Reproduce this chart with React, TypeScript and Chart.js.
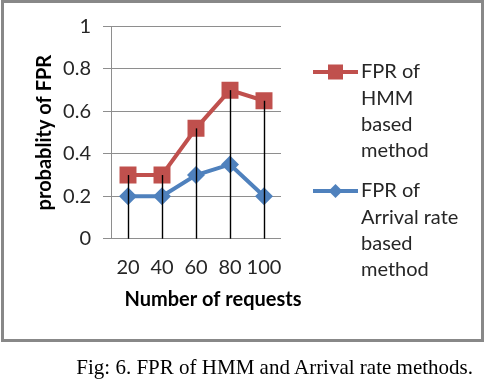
import React, { useEffect, useRef } from "react";
import { Chart, registerables } from "chart.js";

Chart.register(...registerables);

const CATEGORIES = ["20", "40", "60", "80", "100"];
const HMM_FPR = [0.3, 0.3, 0.52, 0.7, 0.65];
const ARRIVAL_FPR = [0.2, 0.2, 0.3, 0.35, 0.2];
const Y_TICKS = [0, 0.2, 0.4, 0.6, 0.8, 1];
const HMM_LABEL = ["FPR of", "HMM", "based", "method"];
const ARRIVAL_LABEL = ["FPR of", "Arrival rate", "based", "method"];
const Y_TITLE = "probablity of FPR";
const X_TITLE = "Number of requests";
const CAPTION = "Fig: 6. FPR of HMM and Arrival rate methods.";

const RED = "#C0504D";
const BLUE = "#4F81BD";
const FONT = "Lato";
const TEXT = "#262626";
const GRID = "#8e8e8e";
const FS = 20;

const dropLines = {
  id: "dropLines",
  afterDatasetsDraw(chart: any) {
    const ctx = chart.ctx;
    const area = chart.chartArea;
    const metas = chart.data.datasets.map((_: any, i: number) => chart.getDatasetMeta(i));
    const n = chart.data.labels.length;
    ctx.save();
    ctx.strokeStyle = "#000";
    ctx.lineWidth = 1.4;
    for (let i = 0; i < n; i++) {
      let minY = Infinity;
      let x = 0;
      metas.forEach((m: any) => {
        const p = m.data[i];
        if (p && p.y < minY) {
          minY = p.y;
          x = p.x;
        }
      });
      ctx.beginPath();
      ctx.moveTo(Math.round(x) + 0.5, minY);
      ctx.lineTo(Math.round(x) + 0.5, area.bottom);
      ctx.stroke();
    }
    ctx.restore();
  },
};

const customText = {
  id: "customText",
  afterDraw(chart: any) {
    const ctx = chart.ctx;
    ctx.save();
    ctx.font = `bold ${FS}px ${FONT}`;
    ctx.fillStyle = "#000";
    ctx.textAlign = "center";
    ctx.textBaseline = "alphabetic";
    ctx.fillText(X_TITLE, 213, 306);

    chart.data.datasets.forEach((ds: any, k: number) => {
      const y0 = 72 + k * 119;
      ctx.strokeStyle = ds.borderColor;
      ctx.lineWidth = 4;
      ctx.beginPath();
      ctx.moveTo(313, y0);
      ctx.lineTo(358, y0);
      ctx.stroke();
      ctx.fillStyle = ds.backgroundColor;
      const cx = 335.5;
      if (ds.pointStyle === "rect") {
        ctx.fillRect(cx - 7.5, y0 - 7.5, 15, 15);
      } else {
        ctx.beginPath();
        ctx.moveTo(cx - 7, y0);
        ctx.lineTo(cx, y0 - 7);
        ctx.lineTo(cx + 7, y0);
        ctx.lineTo(cx, y0 + 7);
        ctx.closePath();
        ctx.fill();
      }
      ctx.font = `${FS}px ${FONT}`;
      ctx.fillStyle = TEXT;
      ctx.textAlign = "left";
      ctx.textBaseline = "middle";
      (ds.legendLines as string[]).forEach((line, j) => {
        ctx.fillText(line, 361, y0 + j * 26.3);
      });
    });
    ctx.restore();
  },
};

export default function App() {
  const ref = useRef<HTMLCanvasElement>(null);

  useEffect(() => {
    document.body.style.margin = "0";
    if (!ref.current) return;
    const chart = new Chart(ref.current, {
      type: "line",
      data: {
        labels: CATEGORIES,
        datasets: [
          {
            label: HMM_LABEL.join(" "),
            data: HMM_FPR,
            borderColor: RED,
            backgroundColor: RED,
            borderWidth: 4,
            pointStyle: "rect",
            pointRadius: 12,
            pointHoverRadius: 12,
            pointBorderWidth: 0,
            tension: 0,
            legendLines: HMM_LABEL,
          } as any,
          {
            label: ARRIVAL_LABEL.join(" "),
            data: ARRIVAL_FPR,
            borderColor: BLUE,
            backgroundColor: BLUE,
            borderWidth: 4,
            pointStyle: "rectRot",
            pointRadius: 9,
            pointHoverRadius: 9,
            pointBorderWidth: 0,
            tension: 0,
            legendLines: ARRIVAL_LABEL,
          } as any,
        ],
      },
      options: {
        responsive: false,
        animation: false,
        devicePixelRatio: 1,
        layout: { padding: { left: 0, top: 26.5, right: 219, bottom: 99.3 } },
        plugins: { legend: { display: false }, tooltip: { enabled: false } },
        scales: {
          x: {
            type: "category",
            offset: true,
            grid: { display: false, drawTicks: false },
            border: { display: false },
            ticks: {
              font: { family: FONT, size: FS },
              color: TEXT,
              padding: 17,
              maxRotation: 0,
              autoSkip: false,
            },
            afterFit: (s: any) => {
              s.height = 50;
            },
          },
          y: {
            min: 0,
            max: 1,
            afterBuildTicks: (s: any) => {
              s.ticks = Y_TICKS.map((v) => ({ value: v }));
            },
            grid: { color: GRID, lineWidth: 1, tickLength: 8, drawTicks: true },
            border: { display: true, color: GRID, width: 1 },
            ticks: {
              font: { family: FONT, size: FS },
              color: TEXT,
              padding: 12,
              callback: (v: any) => String(v),
            },
            title: {
              display: true,
              text: Y_TITLE,
              color: "#000",
              font: { family: FONT, size: FS, weight: "bold" },
              padding: { top: 33, bottom: 0 },
            },
            afterFit: (s: any) => {
              s.width = 111;
            },
          },
        },
      },
      plugins: [dropLines, customText],
    });
    return () => chart.destroy();
  }, []);

  return (
    <div style={{ position: "relative", width: 500, height: 388, background: "#fff" }}>
      <div
        style={{
          position: "absolute",
          left: 1,
          top: 0,
          width: 483,
          height: 342,
          boxSizing: "border-box",
          border: "3px solid #888",
        }}
      />
      <canvas
        ref={ref}
        width={500}
        height={388}
        style={{ position: "absolute", left: 0, top: 0, width: 500, height: 388 }}
      />
      <div
        style={{
          position: "absolute",
          left: 0,
          top: 357,
          width: 473,
          textAlign: "right",
          fontFamily: "'Liberation Serif', 'Times New Roman', serif",
          fontSize: 21,
          lineHeight: "21px",
          color: "#000",
          whiteSpace: "nowrap",
        }}
      >
        {CAPTION}
      </div>
    </div>
  );
}
